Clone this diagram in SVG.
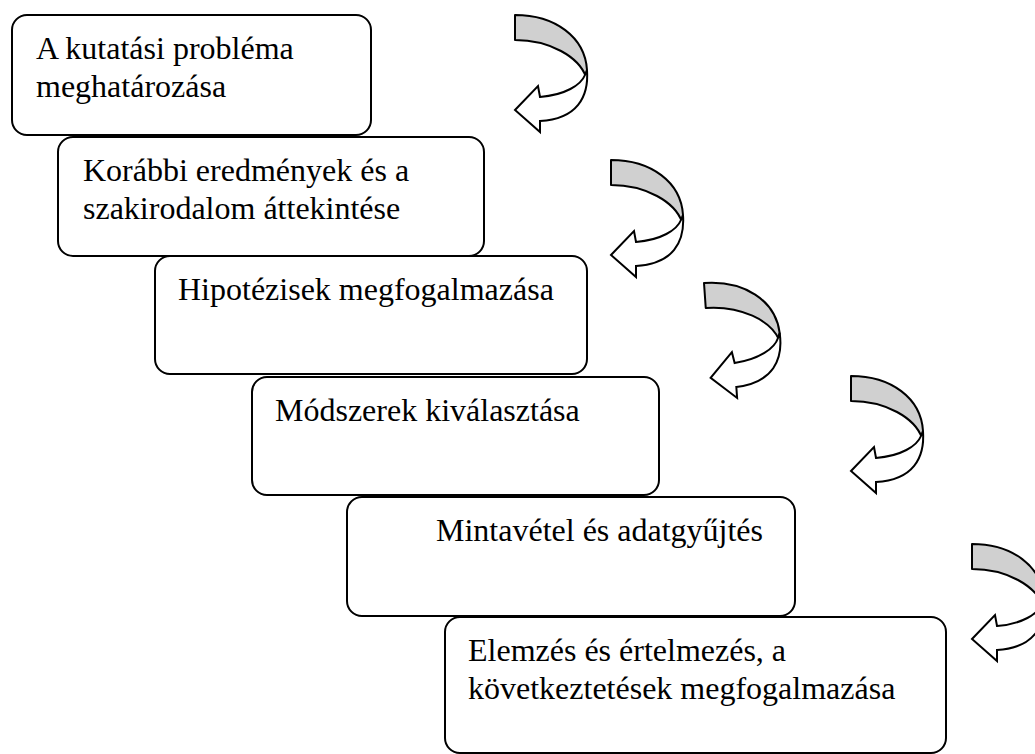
<svg xmlns="http://www.w3.org/2000/svg" xmlns:xlink="http://www.w3.org/1999/xlink" width="1035" height="754" viewBox="0 0 1035 754">
<style>
.box{fill:#ffffff;stroke:#000000;stroke-width:2}
.lbl{font-family:"Liberation Serif","Times New Roman",serif;font-size:32px;fill:#000000}
.band{fill:#d0d0d0;stroke:#000000;stroke-width:2;stroke-linejoin:round}
.head{fill:#ffffff;stroke:#000000;stroke-width:2;stroke-linejoin:miter}
</style>
<defs>
<g id="curvedArrow">
<path class="band" d="M0,0 C40,0 70,22 72,55 L71,62 C64,42 35,25 0,25 Z"/>
<path class="head" d="M72,55 C74,82 62,104 25,106 L25,117 L0,95 L23,71 L25,82 C50,80 66,70 70,60 Z"/>
</g>
</defs>
<rect width="1035" height="754" fill="#ffffff"/>
<g id="node1">
<rect class="box" x="12" y="15" width="359" height="120" rx="15"/>
<text class="lbl" x="36" y="59">A kutatási probléma</text>
<text class="lbl" x="36" y="97">meghatározása</text>
</g>
<g id="node2">
<rect class="box" x="58" y="137" width="426" height="119" rx="15"/>
<text class="lbl" x="83" y="181">Korábbi eredmények és a</text>
<text class="lbl" x="83" y="219">szakirodalom áttekintése</text>
</g>
<g id="node3">
<rect class="box" x="155" y="256" width="432" height="118" rx="15"/>
<text class="lbl" x="178" y="300">Hipotézisek megfogalmazása</text>
</g>
<g id="node4">
<rect class="box" x="252" y="377" width="407" height="118" rx="15"/>
<text class="lbl" x="275" y="421">Módszerek kiválasztása</text>
</g>
<g id="node5">
<rect class="box" x="347" y="497" width="448" height="119" rx="15"/>
<text class="lbl" x="436" y="541">Mintavétel és adatgyűjtés</text>
</g>
<g id="node6">
<rect class="box" x="445" y="617" width="501" height="136" rx="15"/>
<text class="lbl" x="468" y="661">Elemzés és értelmezés, a</text>
<text class="lbl" x="468" y="699">következtetések megfogalmazása</text>
</g>
<g id="connectors">
<use xlink:href="#curvedArrow" transform="translate(515,15)"/>
<use xlink:href="#curvedArrow" transform="translate(611,160)"/>
<use xlink:href="#curvedArrow" transform="translate(704,283) rotate(-4)"/>
<use xlink:href="#curvedArrow" transform="translate(851,376)"/>
<use xlink:href="#curvedArrow" transform="translate(972,544)"/>
</g>
</svg>
